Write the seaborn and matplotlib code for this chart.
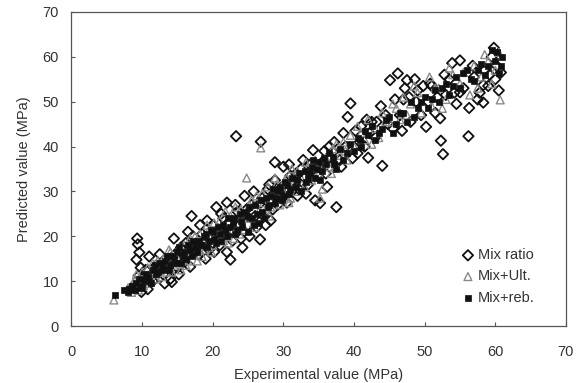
import matplotlib
matplotlib.use('Agg')
import matplotlib.pyplot as plt
import seaborn as sns
import pandas as pd

# Mix ratio (open diamonds)
mix_x = [9.3, 9.4, 9.6, 9.2, 9.8, 9.5, 9.7, 9.9,
         10.5, 11.0, 11.5, 12.0, 12.5, 13.0, 13.5, 14.0, 14.2, 14.5, 15.0, 15.5, 16.0, 16.5, 17.0, 17.5,
         18.0, 18.5, 19.0, 19.5, 20.0, 20.5, 21.0, 21.5, 22.0, 22.5, 22.0, 23.0, 23.3, 23.5, 24.0, 24.5,
         25.0, 25.5, 26.0, 26.7, 26.8, 27.0, 27.5,
         28.0, 28.5, 28.8, 29.5, 30.0, 30.5, 31.0, 31.5, 32.0, 32.5, 33.0, 33.5, 34.2, 34.5, 35.2, 35.5,
         36.0, 36.5, 37.5, 37.0,
         38.0, 38.5, 39.1, 39.5, 39.8, 40.5, 41.0, 41.5, 42.0, 42.5, 43.0, 44.0, 44.5, 45.1, 45.5, 46.2,
         46.8, 47.0, 47.5, 48.0, 48.6, 49.0, 49.5, 50.2, 50.5, 51.0, 51.5, 52.2, 52.3, 52.6, 53.0, 53.9,
         54.5, 55.0, 55.0, 55.5, 56.2, 56.3, 57.0, 57.5, 58.3, 58.3, 58.5, 59.0, 59.5, 60.0, 60.5, 60.2,
         8.5, 10.2, 10.8, 11.8, 12.8, 13.2, 14.8, 15.2, 15.8, 16.2, 16.8, 17.2, 17.8, 18.2, 18.8, 19.2,
         19.8, 20.2, 20.8, 21.2, 21.8, 22.2, 22.8, 23.2, 23.8, 24.2, 24.8, 25.2, 25.8, 26.2, 26.8, 27.2,
         27.8, 28.2, 28.8, 29.2, 29.8, 30.2, 30.8, 31.2, 31.8, 32.2, 32.8, 33.2, 33.8, 34.8, 35.8, 36.2,
         36.8, 37.2, 38.2, 38.8, 40.2, 40.8, 41.8, 42.2, 43.2, 43.8, 44.8, 45.8, 46.5, 47.2, 47.8, 48.8,
         49.8, 50.8, 51.8, 52.8, 53.5, 54.2, 56.8, 57.8, 59.2, 59.8, 60.8]
mix_y = [19.5, 18.2, 16.4, 14.8, 13.0, 11.2, 9.5, 7.6,
         12.5, 15.5, 10.0, 13.5, 16.0, 11.5, 14.0, 10.5, 9.8, 19.5, 13.0, 17.5, 15.5, 21.0, 24.5, 18.0,
         16.0, 20.5, 15.0, 17.0, 22.5, 26.5, 18.0, 24.0, 27.5, 14.8, 16.5, 21.0, 42.3, 25.5, 19.5, 29.0,
         22.5, 27.0, 24.5, 19.3, 41.1, 28.5, 22.5,
         31.5, 26.0, 36.5, 29.5, 35.5, 27.5, 33.5, 30.5, 29.0, 35.0, 33.0, 31.5, 39.2, 28.0, 27.4, 36.5,
         34.0, 40.0, 26.5, 38.8,
         37.0, 43.0, 46.6, 49.6, 37.4, 38.5, 44.5, 40.0, 37.5, 45.5, 42.0, 35.7, 47.0, 54.8, 44.0, 56.3,
         43.5, 50.5, 54.8, 45.5, 55.0, 52.5, 47.0, 44.4, 50.0, 53.5, 47.5, 46.3, 41.3, 38.3, 51.5, 58.6,
         49.5, 59.2, 52.1, 53.0, 42.3, 48.6, 55.5, 50.5, 49.8, 53.7, 57.0, 53.5, 60.0, 55.0, 52.5, 58.0,
         8.5, 10.8, 8.2, 11.8, 13.2, 9.5, 16.2, 11.5, 14.2, 18.5, 13.2, 20.0, 16.8, 22.5, 18.2, 23.5,
         20.0, 16.5, 21.5, 25.0, 20.5, 23.0, 19.0, 27.0, 22.5, 17.5, 26.0, 20.0, 30.0, 22.0, 27.5, 24.5,
         30.5, 23.5, 32.5, 27.0, 31.0, 29.0, 36.0, 31.5, 34.0, 30.5, 37.0, 29.5, 36.0, 33.5, 39.0, 31.0,
         37.5, 41.0, 35.5, 40.0, 43.5, 41.0, 46.0, 43.0, 45.5, 49.0, 45.0, 50.5, 47.0, 53.0, 51.0, 50.0,
         53.5, 54.0, 51.0, 56.0, 55.0, 52.0, 58.0, 52.0, 56.0, 62.0, 56.5]

# Mix+Ult. (open triangles)
ult_x = [6.0, 8.0, 8.5, 9.0, 9.5, 10.0, 10.5, 11.0, 11.5, 12.0, 12.5, 13.0, 13.5, 14.0, 14.5, 15.0,
         15.5, 16.0, 16.5, 17.0, 17.5, 18.0, 18.5, 19.0, 19.5, 20.0, 20.5, 21.0, 21.5, 22.0, 22.5, 23.0,
         23.5, 24.0, 24.5, 24.8, 25.0, 25.5, 26.0, 26.5, 26.8, 27.0, 27.5, 28.0, 28.5, 29.0, 29.5, 30.0,
         30.5, 31.0, 31.5, 32.0, 33.0, 33.5, 34.0, 34.5, 35.0, 35.5, 36.0, 36.5, 37.0, 38.0, 38.5, 39.0,
         39.5, 40.0, 41.0, 41.5, 42.0, 43.0, 43.5, 44.0, 45.0, 46.0, 46.5, 47.0, 48.0, 49.0, 49.5, 50.7,
         51.0, 52.0, 53.0, 54.0, 55.0, 56.4, 57.0, 58.0, 59.0, 60.0, 60.5, 60.7,
         8.8, 9.2, 10.2, 10.8, 11.2, 11.8, 12.2, 12.8, 13.2, 13.8, 14.2, 14.8, 15.2, 15.8, 16.2, 16.8,
         17.2, 17.8, 18.2, 18.8, 19.2, 19.8, 20.2, 20.8, 21.2, 21.8, 22.2, 22.8, 23.2, 23.8, 24.2, 25.2,
         25.8, 26.2, 27.2, 27.8, 28.2, 28.8, 29.2, 30.2, 30.8, 31.2, 31.8, 32.5, 33.2, 34.2, 35.2, 35.8,
         36.8, 37.5, 38.8, 40.5, 42.5, 44.5, 45.5, 47.5, 48.5, 51.5, 52.5, 53.5, 55.5, 57.5, 58.5, 59.5]
ult_y = [5.8, 8.5, 7.5, 10.5, 8.0, 12.0, 9.5, 11.0, 14.0, 10.5, 12.5, 15.0, 12.0, 16.5, 13.5, 15.0,
         12.5, 18.0, 14.5, 16.5, 20.0, 17.5, 15.5, 19.5, 21.5, 18.0, 20.0, 23.5, 19.0, 21.5, 24.5, 19.5,
         23.0, 26.0, 21.5, 33.0, 24.0, 28.0, 22.0, 25.5, 39.7, 29.5, 26.0, 24.5, 29.0, 31.5, 27.0, 30.0,
         33.0, 28.5, 32.0, 34.5, 31.0, 35.5, 32.5, 37.0, 34.0, 30.5, 37.5, 35.5, 39.5, 38.0, 41.0, 37.0,
         42.5, 40.0, 43.0, 41.5, 46.0, 44.0, 42.0, 47.5, 45.5, 48.5, 46.0, 51.0, 49.5, 52.0, 47.5, 55.5,
         49.0, 53.0, 50.5, 56.0, 54.0, 51.5, 58.0, 55.5, 59.0, 57.0, 61.0, 50.4,
         9.5, 11.5, 9.0, 13.0, 10.0, 12.0, 14.5, 11.0, 13.5, 17.0, 12.0, 14.0, 17.5, 15.5, 13.5, 19.5,
         17.0, 14.5, 20.5, 17.0, 22.5, 16.5, 23.0, 19.0, 21.0, 25.5, 18.5, 22.5, 26.5, 20.5, 24.0, 27.0,
         23.0, 29.0, 27.5, 31.0, 26.5, 33.0, 29.5, 32.5, 27.5, 35.0, 30.0, 33.0, 36.5, 34.5, 28.5, 36.0,
         34.0, 40.5, 39.0, 44.5, 40.5, 45.5, 49.5, 47.0, 53.5, 53.0, 48.5, 57.5, 56.5, 53.0, 60.5, 54.0]

# Mix+reb. (small filled squares)
reb_x = [6.2, 8.0, 8.5, 9.0, 9.5, 10.0, 10.5, 11.0, 11.5, 12.0, 12.5, 13.0, 13.5, 14.0, 14.5, 15.0,
         15.5, 16.0, 16.5, 17.0, 17.5, 18.0, 18.5, 19.0, 19.5, 20.0, 20.5, 21.0, 21.5, 22.0, 22.5, 23.0,
         23.5, 24.0, 24.5, 25.0, 25.5, 26.0, 26.5, 27.0, 27.5, 28.0, 28.5, 29.0, 29.5, 30.0, 30.5, 31.0,
         32.0, 32.5, 33.0, 33.5, 34.0, 34.5, 35.0, 35.5, 36.0, 37.0, 37.5, 38.0, 39.0, 39.5, 40.0, 40.5,
         41.0, 42.0, 42.5, 43.0, 44.0, 45.0, 45.5, 46.0, 47.0, 47.5, 48.0, 49.0, 50.0, 50.5, 51.5, 52.0,
         53.0, 53.5, 54.5, 55.0, 56.0, 57.0, 58.0, 58.5, 59.5, 60.0, 60.5, 61.0,
         7.5, 8.2, 9.2, 9.8, 10.2, 10.8, 11.2, 11.8, 12.2, 12.8, 13.2, 13.8, 14.2, 14.8, 15.2, 15.8,
         16.2, 16.8, 17.2, 17.8, 18.2, 18.8, 19.2, 19.8, 20.2, 20.8, 21.2, 21.8, 22.2, 22.8, 23.2, 23.8,
         24.2, 24.8, 25.2, 25.8, 26.2, 26.8, 27.2, 27.8, 28.2, 28.8, 29.2, 29.8, 30.2, 30.8, 31.2, 31.8,
         32.2, 33.2, 33.8, 34.2, 34.8, 35.2, 35.8, 36.5, 37.2, 38.5, 40.8, 41.5, 43.5, 44.5, 46.5, 48.5,
         49.5, 51.0, 52.5, 54.0, 55.5, 56.5, 57.5, 59.0, 60.2, 60.8]
reb_y = [7.0, 7.5, 9.0, 8.0, 10.5, 9.0, 11.5, 10.0, 12.5, 11.5, 14.0, 13.0, 15.5, 13.5, 15.0, 16.5,
         14.0, 16.5, 18.0, 15.5, 17.5, 19.0, 18.0, 20.5, 19.0, 21.0, 18.5, 20.5, 22.5, 20.0, 22.0, 24.0,
         21.5, 23.5, 25.5, 21.0, 24.0, 27.0, 23.0, 25.5, 28.5, 27.0, 30.5, 28.5, 31.0, 29.0, 31.5, 30.5,
         32.5, 30.0, 34.5, 33.0, 35.5, 33.0, 36.5, 34.5, 36.0, 37.5, 35.0, 39.5, 38.5, 40.5, 39.0, 42.0,
         40.0, 42.5, 44.5, 41.5, 44.0, 46.5, 43.0, 45.0, 47.5, 45.5, 50.0, 48.5, 51.0, 48.5, 52.5, 50.0,
         54.0, 51.5, 55.5, 53.0, 57.0, 54.5, 58.5, 56.0, 61.5, 59.0, 56.5, 60.0,
         8.0, 8.2, 9.5, 8.5, 10.2, 11.0, 9.5, 13.5, 12.0, 12.5, 14.5, 12.5, 15.5, 14.0, 17.5, 15.5,
         15.0, 17.0, 19.0, 16.5, 18.0, 20.0, 17.5, 21.5, 19.5, 22.0, 19.0, 21.5, 24.0, 23.0, 20.5, 25.0,
         22.0, 24.5, 26.5, 22.5, 25.0, 28.0, 24.0, 26.5, 29.0, 27.5, 30.0, 28.0, 32.0, 29.5, 33.0, 31.0,
         34.0, 32.0, 34.0, 37.0, 35.0, 32.5, 37.5, 38.5, 36.0, 37.0, 41.5, 43.5, 43.0, 46.0, 47.5, 46.5,
         50.0, 50.5, 53.0, 53.5, 56.5, 55.0, 57.0, 58.0, 61.0, 58.0]

df_mix = pd.DataFrame({'x': mix_x, 'y': mix_y})
df_ult = pd.DataFrame({'x': ult_x, 'y': ult_y})
df_reb = pd.DataFrame({'x': reb_x, 'y': reb_y})

sns.set_style('white')
plt.rcParams['font.family'] = ['Liberation Sans', 'DejaVu Sans']
txt = '#333333'

fig = plt.figure(figsize=(5.84, 3.83), dpi=100)
ax = fig.add_axes([0.1224, 0.1488, 0.8466, 0.82])

sns.scatterplot(data=df_mix, x='x', y='y', ax=ax, marker='D', s=28, color='black',
                facecolor='none', edgecolor='#111111', linewidth=1.3, label='Mix ratio')
sns.scatterplot(data=df_ult, x='x', y='y', ax=ax, marker='^', s=32, color='#888888',
                facecolor='none', edgecolor='#8a8a8a', linewidth=1.0, label='Mix+Ult.')
sns.scatterplot(data=df_reb, x='x', y='y', ax=ax, marker='s', s=14, color='#111111',
                edgecolor='#111111', linewidth=0.5, label='Mix+reb.')

ax.set_xlim(0, 70)
ax.set_ylim(0, 70)
ax.set_xticks(range(0, 71, 10))
ax.set_yticks(range(0, 71, 10))
ax.tick_params(direction='in', length=3, width=0.8, colors='#555555', labelcolor=txt,
               labelsize=10.5, pad=9, bottom=True, left=True)
ax.tick_params(axis='x', pad=14)
for sp in ax.spines.values():
    sp.set_color('#555555')
    sp.set_linewidth(0.9)

ax.set_xlabel('Experimental value (MPa)', fontsize=10.5, color=txt, labelpad=6)
ax.set_ylabel('Predicted value (MPa)', fontsize=10.5, color=txt, labelpad=8)

leg = ax.legend(loc='lower right', bbox_to_anchor=(0.955, 0.04), frameon=False, fontsize=10.5,
                handletextpad=0.1, labelspacing=0.5, handlelength=1.2, borderaxespad=0.2)
for t in leg.get_texts():
    t.set_color(txt)

fig.savefig('out.png', dpi=100)
